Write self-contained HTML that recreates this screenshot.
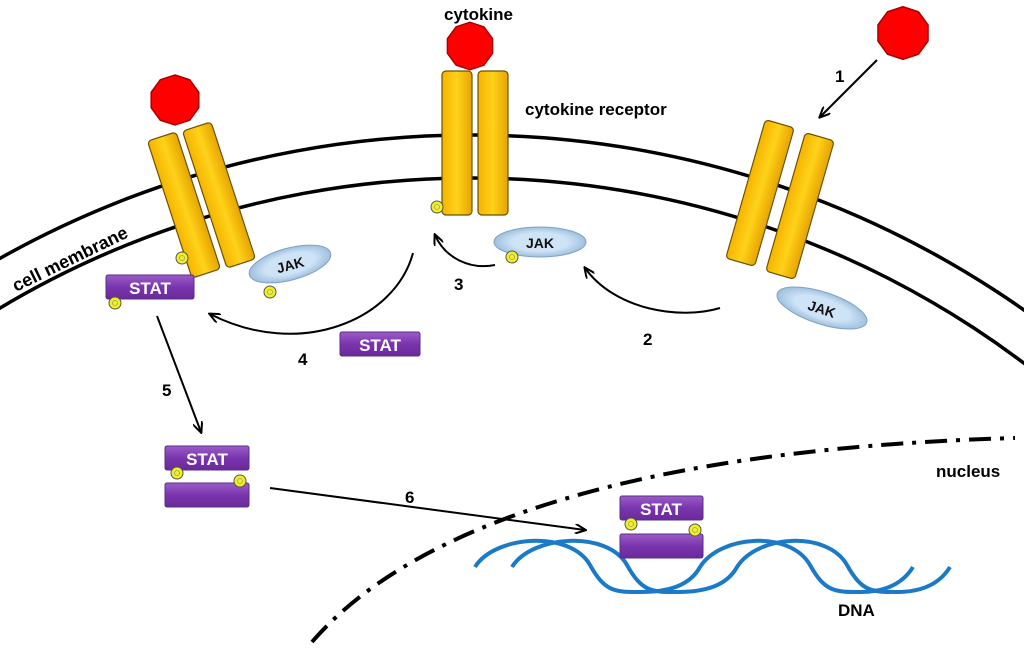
<!DOCTYPE html>
<html><head><meta charset="utf-8"><style>
html,body{margin:0;padding:0;background:#fff;overflow:hidden;width:1024px;height:649px;}
svg{display:block;font-family:"Liberation Sans",sans-serif;}
.lbl{font-weight:bold;font-size:17px;fill:#000;}
.st{font-weight:bold;font-size:17px;fill:#fff;}
.jk{font-weight:bold;font-size:14px;fill:#111;}
</style></head><body>
<svg width="1024" height="649" viewBox="0 0 1024 649" xmlns="http://www.w3.org/2000/svg">
<defs>
<linearGradient id="yg" x1="0" x2="1"><stop offset="0" stop-color="#f5b400"/><stop offset="0.5" stop-color="#ffd21a"/><stop offset="1" stop-color="#e6a400"/></linearGradient>
<linearGradient id="pg" x1="0" y1="0" x2="0" y2="1"><stop offset="0" stop-color="#9b5cc8"/><stop offset="0.5" stop-color="#7a35ad"/><stop offset="1" stop-color="#6a2a9a"/></linearGradient>
<radialGradient id="jg"><stop offset="0.6" stop-color="#cfe3f7"/><stop offset="1" stop-color="#9fc0de"/></radialGradient>
<marker id="ah" markerWidth="12" markerHeight="10" refX="10" refY="5" orient="auto" markerUnits="userSpaceOnUse"><path d="M0,0 L11,5 L0,10" fill="none" stroke="#000" stroke-width="2"/></marker>
<g id="oct"><polygon points="0,-25 14.7,-20.2 23.8,-7.7 23.8,7.7 14.7,20.2 0,25 -14.7,20.2 -23.8,7.7 -23.8,-7.7 -14.7,-20.2" fill="#f00" stroke="#a00" stroke-width="1.5"/></g>
<g id="bar"><rect x="-15" y="-72" width="30" height="144" rx="4" fill="url(#yg)" stroke="#6b5200" stroke-width="1.2"/></g>
<g id="ph"><circle r="6" fill="#f2f21a" stroke="#555" stroke-width="1"/><circle r="2.5" fill="none" stroke="#999" stroke-width="0.8"/></g>
</defs>

<circle cx="471" cy="1096" r="961" fill="none" stroke="#000" stroke-width="3.5"/>
<circle cx="471" cy="1096" r="918" fill="none" stroke="#000" stroke-width="3.5"/>
<path d="M312,642 C400,540 600,450 1015,438" fill="none" stroke="#000" stroke-width="4" stroke-dasharray="22,9,4,9"/>

<use href="#bar" transform="translate(184,205) rotate(-18)"/>
<use href="#bar" transform="translate(219,195) rotate(-18)"/>
<use href="#oct" transform="translate(175,100)"/>
<use href="#bar" transform="translate(457,143)"/>
<use href="#bar" transform="translate(493,143)"/>
<use href="#oct" transform="translate(470,46) scale(0.95)"/>
<use href="#bar" transform="translate(760,193) rotate(16)"/>
<use href="#bar" transform="translate(800,206) rotate(16)"/>
<use href="#oct" transform="translate(903,33) scale(1.05)"/>

<ellipse cx="290" cy="264" rx="42" ry="16" transform="rotate(-15 290 264)" fill="url(#jg)" stroke="#7fa3c4"/>
<text class="jk" x="290" y="270" text-anchor="middle" transform="rotate(-15 290 264)">JAK</text>
<ellipse cx="540" cy="242" rx="46" ry="15" fill="url(#jg)" stroke="#7fa3c4"/>
<text class="jk" x="540" y="248" text-anchor="middle">JAK</text>
<ellipse cx="822" cy="308" rx="47" ry="16" transform="rotate(18 822 308)" fill="url(#jg)" stroke="#7fa3c4"/>
<text class="jk" x="822" y="314" text-anchor="middle" transform="rotate(18 822 308)">JAK</text>

<rect x="106" y="275" width="88" height="24" rx="2" fill="url(#pg)" stroke="#5a2d85"/>
<text class="st" x="150" y="294" text-anchor="middle">STAT</text>
<rect x="340" y="332" width="80" height="24" rx="2" fill="url(#pg)" stroke="#5a2d85"/>
<text class="st" x="380" y="351" text-anchor="middle">STAT</text>
<rect x="165" y="446" width="84" height="24" rx="2" fill="url(#pg)" stroke="#5a2d85"/>
<text class="st" x="207" y="465" text-anchor="middle">STAT</text>
<rect x="165" y="483" width="84" height="24" rx="2" fill="url(#pg)" stroke="#5a2d85"/>

<g fill="none" stroke="#1a7ac8" stroke-width="4">
<path d="M475,567 C495,535 570,530 590,565 C605,592 615,592 640,592 C670,592 690,585 700,567 C720,535 790,530 810,565 C825,592 835,592 860,592 C890,592 905,580 913,567"/>
<path d="M512,567 C532,535 607,530 627,565 C642,592 652,592 677,592 C707,592 727,585 737,567 C757,535 827,530 847,565 C862,592 872,592 897,592 C927,592 942,580 950,567"/>
</g>

<rect x="620" y="496" width="83" height="24" rx="2" fill="url(#pg)" stroke="#5a2d85"/>
<text class="st" x="661" y="515" text-anchor="middle">STAT</text>
<rect x="620" y="534" width="83" height="24" rx="2" fill="url(#pg)" stroke="#5a2d85"/>

<use href="#ph" transform="translate(182,258)"/>
<use href="#ph" transform="translate(115,303)"/>
<use href="#ph" transform="translate(270,292)"/>
<use href="#ph" transform="translate(437,207)"/>
<use href="#ph" transform="translate(512,257)"/>
<use href="#ph" transform="translate(177,473)"/>
<use href="#ph" transform="translate(240,481)"/>
<use href="#ph" transform="translate(631,524)"/>
<use href="#ph" transform="translate(695,530)"/>

<g fill="none" stroke="#000" stroke-width="2">
<path d="M877,60 L820,117" marker-end="url(#ah)"/>
<path d="M720,308 C680,320 615,310 585,268" marker-end="url(#ah)"/>
<path d="M495,265 C470,270 445,258 435,235" marker-end="url(#ah)"/>
<path d="M413,253 C395,320 300,360 210,314" marker-end="url(#ah)"/>
<path d="M157,316 L201,432" marker-end="url(#ah)"/>
<path d="M270,488 L585,530" marker-end="url(#ah)"/>
</g>

<text class="lbl" x="444" y="20">cytokine</text>
<text class="lbl" x="525" y="115">cytokine receptor</text>
<text class="lbl" x="835" y="82">1</text>
<text class="lbl" x="643" y="345">2</text>
<text class="lbl" x="454" y="290">3</text>
<text class="lbl" x="298" y="365">4</text>
<text class="lbl" x="162" y="396">5</text>
<text class="lbl" x="405" y="503">6</text>
<text class="lbl" x="936" y="477">nucleus</text>
<text class="lbl" x="838" y="616">DNA</text>
<text class="lbl" style="font-size:18px" x="16" y="292" transform="rotate(-26 16 292)">cell membrane</text>
</svg>
</body></html>
